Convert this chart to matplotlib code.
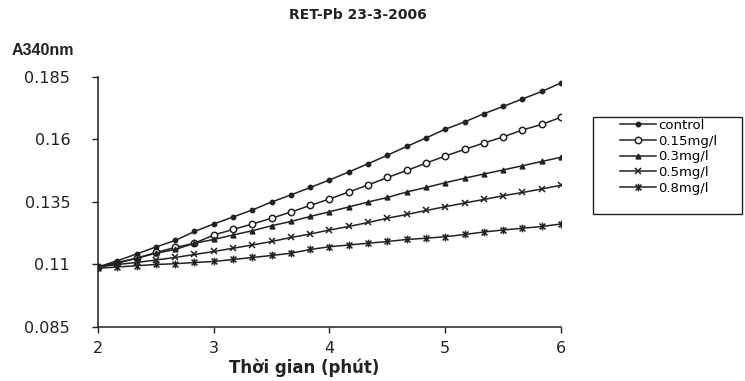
import numpy as np
import matplotlib
matplotlib.use("Agg")
import matplotlib.pyplot as plt
from matplotlib.path import Path
from matplotlib.patches import Rectangle

plt.rcParams["font.family"] = ["DejaVu Sans"]

# time in minutes, one reading every 10 s
time = np.linspace(2, 6, 25)

control = [0.1090, 0.1115, 0.1142, 0.1170, 0.1196, 0.1232, 0.1262, 0.1290, 0.1318,
           0.1350, 0.1378, 0.1408, 0.1438, 0.1470, 0.1503, 0.1537, 0.1572, 0.1606,
           0.1641, 0.1670, 0.1703, 0.1732, 0.1762, 0.1792, 0.1826]
pb_015 = [0.1090, 0.1105, 0.1125, 0.1148, 0.1168, 0.1185, 0.1218, 0.1240, 0.1262,
          0.1285, 0.1310, 0.1336, 0.1362, 0.1390, 0.1418, 0.1448, 0.1476, 0.1505,
          0.1534, 0.1560, 0.1586, 0.1610, 0.1638, 0.1660, 0.1689]
pb_03 = [0.1090, 0.1108, 0.1125, 0.1145, 0.1160, 0.1185, 0.1200, 0.1218, 0.1235,
         0.1255, 0.1272, 0.1292, 0.1311, 0.1330, 0.1350, 0.1368, 0.1390, 0.1408,
         0.1427, 0.1445, 0.1462, 0.1478, 0.1495, 0.1512, 0.1529]
pb_05 = [0.1090, 0.1100, 0.1108, 0.1118, 0.1128, 0.1140, 0.1152, 0.1165, 0.1178,
         0.1192, 0.1208, 0.1222, 0.1238, 0.1252, 0.1268, 0.1285, 0.1300, 0.1316,
         0.1331, 0.1346, 0.1360, 0.1375, 0.1388, 0.1402, 0.1417]
pb_08 = [0.1085, 0.1090, 0.1095, 0.1100, 0.1103, 0.1108, 0.1112, 0.1120, 0.1128,
         0.1136, 0.1145, 0.1160, 0.1171, 0.1178, 0.1185, 0.1192, 0.1200, 0.1205,
         0.1211, 0.1220, 0.1230, 0.1238, 0.1245, 0.1252, 0.1262]

labels = ["control", "0.15mg/l", "0.3mg/l", "0.5mg/l", "0.8mg/l"]
yticks = [0.085, 0.11, 0.135, 0.16, 0.185]
xticks = [2, 3, 4, 5, 6]

# excel-like star marker: an x with a vertical bar through it
star = Path([(-1, -1), (1, 1), (-1, 1), (1, -1), (0, -1.3), (0, 1.3)],
            [Path.MOVETO, Path.LINETO, Path.MOVETO, Path.LINETO, Path.MOVETO, Path.LINETO])

fig = plt.figure(figsize=(7.45, 3.81), dpi=100)
ax = fig.add_axes([0.1315, 0.1417, 0.6215, 0.6563])

ink = "#222222"
ax.plot(time, control, color=ink, lw=1.1, marker="o", ms=3.2, label=labels[0])
ax.plot(time, pb_015, color=ink, lw=1.1, marker="o", ms=4.6, mfc="white", mew=1.1, label=labels[1])
ax.plot(time, pb_03, color=ink, lw=1.1, marker="^", ms=3.5, label=labels[2])
ax.plot(time, pb_05, color=ink, lw=1.1, marker="x", ms=5, mew=1.1, label=labels[3])
ax.plot(time, pb_08, color=ink, lw=1.1, marker=star, ms=5.5, mew=1.1, label=labels[4])

ax.set_xlim(2, 6)
ax.set_ylim(0.085, 0.185)
ax.set_xticks(xticks)
ax.set_yticks(yticks)
ax.set_yticklabels([f"{v:g}" for v in yticks])
ax.tick_params(axis="both", direction="out", length=4, width=1, labelsize=11.5, colors=ink)
ax.tick_params(axis="y", pad=16)
ax.tick_params(axis="x", pad=6)
for s in ["top", "right"]:
    ax.spines[s].set_visible(False)
for s in ["left", "bottom"]:
    ax.spines[s].set_color(ink)
    ax.spines[s].set_linewidth(1.1)

fig.text(304 / 745, 1 - 368 / 381, "Thời gian (phút)", fontsize=12, fontweight="bold",
         color=ink, ha="center", va="center")
fig.text(0.016, 0.855, "A340nm", fontsize=11.5, fontweight="bold", color=ink,
         family="Liberation Sans")
fig.text(358 / 745, 1 - 15 / 381, "RET-Pb 23-3-2006", fontsize=10, fontweight="bold",
         color=ink, ha="center", va="center")

# legend box drawn separately so the entries sit indented like the original
fig.patches.append(Rectangle((593 / 745, 1 - 214 / 381), 149 / 745, 97 / 381,
                             transform=fig.transFigure, fill=False, ec=ink, lw=1))
leg = fig.legend(loc="upper left", bbox_to_anchor=(620 / 745, 1 - 119 / 381), fontsize=9.5,
                 frameon=False, handlelength=2.7, borderpad=0.0, borderaxespad=0,
                 labelspacing=0.2, handletextpad=0.2)

fig.savefig("out.png", dpi=100)
